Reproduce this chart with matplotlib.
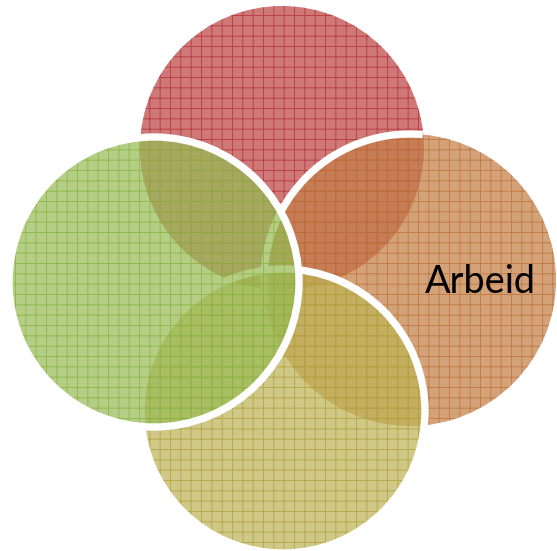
import matplotlib
matplotlib.use("Agg")
import matplotlib.pyplot as plt
from matplotlib.patches import Circle, Arc

# circles, back to front
names = ["red", "orange", "yellow", "green"]
cx = [282, 410, 283, 154]
cy = [148, 280, 411, 282]
radius = [142, 146, 142, 145]
fill = ["#bb4444", "#c37e46", "#bfb357", "#98bb56"]
grid = ["#b42a32", "#bd6e32", "#ad9f34", "#86b038"]
labels = ["", "Arbeid", "", ""]

# white rim: which part of each circle carries it (degrees, y axis points down)
rim = [None, (170, 275), (0, 360), (0, 360)]

W, H, DPI = 557, 551, 62
plt.rcParams["hatch.linewidth"] = 1.1

fig = plt.figure(figsize=(W / DPI, H / DPI), dpi=DPI)
ax = fig.add_axes([0, 0, 1, 1])
ax.set_xlim(0, W)
ax.set_ylim(H, 0)
ax.set_aspect("equal")
ax.axis("off")

for i in range(len(names)):
    c = Circle((cx[i], cy[i]), radius[i], facecolor=fill[i], edgecolor=grid[i],
               linewidth=0, hatch="+", alpha=0.72)
    ax.add_patch(c)
    if rim[i] is not None:
        a = Arc((cx[i], cy[i]), 2 * radius[i], 2 * radius[i], theta1=rim[i][0],
                theta2=rim[i][1], color="white", linewidth=8.5)
        ax.add_patch(a)
    if labels[i]:
        ax.text(cx[i] + 15, cy[i] + 13, labels[i], fontsize=44, family="Lato",
                ha="left", va="baseline", color="black")

fig.savefig("out.png", dpi=DPI)
